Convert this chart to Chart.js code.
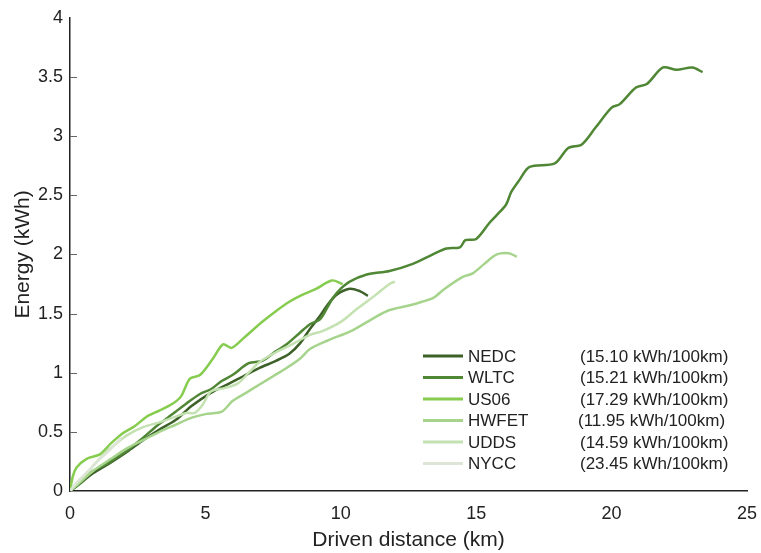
<!DOCTYPE html>
<html>
<head>
<meta charset="utf-8">
<script src="https://cdn.jsdelivr.net/npm/chart.js@4"></script>
<style>
  body { margin: 0; background: #fff; }
  #wrap { width: 761px; height: 553px; }
</style>
</head>
<body>
<div id="wrap"><canvas id="chart"></canvas></div>
<script>
// driving cycles: [distance km, energy kWh]
var cycleNames = ['NEDC', 'WLTC', 'US06', 'HWFET', 'UDDS', 'NYCC'];
var cycleConsumption = ['(15.10 kWh/100km)', '(15.21 kWh/100km)', '(17.29 kWh/100km)',
                        '(11.95 kWh/100km)', '(14.59 kWh/100km)', '(23.45 kWh/100km)'];
var cycleColors = ['#3d6129', '#4f8735', '#86cc4f', '#a6d48c', '#c4e2b1', '#dde6d6'];

var nedc = [[0,0],[0.3,0.05],[0.85,0.15],[1.5,0.24],[2.1,0.33],[2.7,0.43],[3.3,0.52],[3.9,0.6],
  [4.5,0.72],[5.2,0.83],[5.8,0.9],[6.4,0.97],[7.0,1.04],[7.6,1.1],[8.1,1.16],[8.5,1.25],
  [8.86,1.37],[9.2,1.47],[9.5,1.57],[9.85,1.66],[10.33,1.71],[10.7,1.69],[11.0,1.65]];
var wltc = [[0,0],[0.4,0.07],[0.85,0.17],[1.3,0.22],[1.7,0.28],[2.1,0.34],[2.7,0.45],[3.2,0.55],
  [3.5,0.6],[3.9,0.67],[4.3,0.74],[4.8,0.82],[5.2,0.86],[5.6,0.93],[6.0,0.98],[6.6,1.08],
  [7.1,1.1],[7.6,1.18],[8.0,1.24],[8.5,1.34],[8.86,1.41],[9.23,1.45],[9.5,1.55],[9.7,1.63],
  [10.0,1.71],[10.33,1.77],[10.96,1.83],[11.8,1.86],[12.66,1.92],[13.4,2.0],[13.9,2.05],
  [14.4,2.06],[14.6,2.12],[15.0,2.13],[15.5,2.27],[15.75,2.33],[16.1,2.42],[16.3,2.53],
  [16.6,2.63],[16.97,2.74],[17.9,2.77],[18.4,2.9],[18.9,2.93],[19.4,3.07],[20.0,3.24],
  [20.3,3.27],[20.9,3.41],[21.3,3.44],[21.9,3.58],[22.4,3.56],[22.99,3.58],[23.36,3.54]];
var us06 = [[0,0],[0.1,0.12],[0.25,0.2],[0.6,0.27],[1.1,0.31],[1.5,0.4],[1.96,0.49],[2.4,0.55],
  [2.84,0.63],[3.3,0.68],[3.8,0.74],[4.1,0.8],[4.43,0.95],[4.8,0.98],[5.28,1.12],[5.65,1.24],
  [5.97,1.21],[6.4,1.29],[7.1,1.43],[7.6,1.52],[8.1,1.6],[8.5,1.65],[9.1,1.71],[9.67,1.78],
  [10.07,1.75]];
var hwfet = [[0,0],[0.4,0.08],[0.85,0.17],[1.5,0.27],[2.1,0.36],[2.7,0.43],[3.3,0.5],[3.9,0.56],
  [4.5,0.62],[5.0,0.65],[5.6,0.67],[6.0,0.76],[6.5,0.83],[7.0,0.9],[7.5,0.97],[8.0,1.04],
  [8.5,1.12],[8.86,1.2],[9.5,1.27],[10.45,1.36],[11.2,1.46],[11.8,1.53],[12.55,1.57],
  [13.0,1.6],[13.4,1.63],[13.84,1.71],[14.5,1.81],[14.87,1.84],[15.3,1.92],[15.76,2.0],
  [16.2,2.01],[16.5,1.98]];
var udds = [[0,0],[0.5,0.12],[1.2,0.3],[1.7,0.4],[2.1,0.47],[2.7,0.54],[3.3,0.58],[3.8,0.62],
  [4.3,0.66],[4.6,0.66],[4.9,0.73],[5.2,0.84],[5.7,0.87],[6.2,0.91],[6.6,1.0],[7.0,1.09],
  [7.5,1.16],[8.2,1.24],[8.86,1.32],[9.3,1.35],[10.0,1.43],[10.6,1.54],[11.3,1.66],
  [11.8,1.75],[12.0,1.77]];
var nycc = [[0,0],[0.2,0.06],[0.5,0.13],[0.8,0.2],[1.1,0.27],[1.4,0.33],[1.7,0.4],[1.9,0.45]];

var cycleData = [nedc, wltc, us06, hwfet, udds, nycc];

var FONT = 'Liberation Sans, Arial, sans-serif';

// y ticks drawn on the inside of the axis + legend block with consumption text
var extras = {
    id: 'extras',
    afterDraw: function (chart) {
        var ctx = chart.ctx;
        var y = chart.scales.y;
        var area = chart.chartArea;
        ctx.save();
        ctx.strokeStyle = '#666';
        ctx.lineWidth = 1;
        y.ticks.forEach(function (t) {
            if (t.value <= 0 || t.value >= 4) return;
            var py = Math.round(y.getPixelForValue(t.value)) + 0.5;
            ctx.beginPath();
            ctx.moveTo(area.left, py);
            ctx.lineTo(area.left + 7, py);
            ctx.stroke();
        });

        ctx.font = '17px ' + FONT;
        ctx.textBaseline = 'middle';
        ctx.fillStyle = '#222';
        cycleNames.forEach(function (name, i) {
            var rowY = 356 + i * 21.5;
            ctx.strokeStyle = cycleColors[i];
            ctx.lineWidth = 3;
            ctx.beginPath();
            ctx.moveTo(423, rowY);
            ctx.lineTo(463, rowY);
            ctx.stroke();
            ctx.fillText(name, 468, rowY + 1);
            ctx.fillText(cycleConsumption[i], i === 3 ? 578 : 580, rowY + 1);
        });
        ctx.restore();
    }
};

var ctx = document.getElementById('chart').getContext('2d');
var myChart = new Chart(ctx, {
    type: 'line',
    data: {
        datasets: cycleNames.map(function (name, i) {
            return {
                label: name,
                data: cycleData[i].map(function (p) { return { x: p[0], y: p[1] }; }),
                borderColor: cycleColors[i],
                borderWidth: 2.5,
                pointRadius: 0,
                tension: 0.3,
                fill: false
            };
        }).reverse()
    },
    options: {
        responsive: true,
        maintainAspectRatio: false,
        animation: false,
        layout: {
            padding: { top: 11, right: 0, left: 0, bottom: 0 }
        },
        plugins: {
            legend: { display: false },
            tooltip: { enabled: false }
        },
        scales: {
            x: {
                type: 'linear',
                min: 0,
                max: 25,
                ticks: {
                    stepSize: 5,
                    color: '#222',
                    padding: 12,
                    maxRotation: 0,
                    font: { family: FONT, size: 18 }
                },
                grid: { display: false, drawTicks: false },
                border: { color: '#222', width: 1.5 },
                title: {
                    display: true,
                    text: 'Driven distance (km)',
                    color: '#222',
                    padding: 0,
                    font: { family: FONT, size: 21 }
                },
                afterFit: function (s) { s.height = 62; s.paddingRight = 14; }
            },
            y: {
                min: 0,
                max: 4,
                ticks: {
                    stepSize: 0.5,
                    color: '#222',
                    padding: 7,
                    font: { family: FONT, size: 18 },
                    callback: function (v) { return String(v); }
                },
                grid: { display: false, drawTicks: false },
                border: { color: '#222', width: 1.5 },
                title: {
                    display: true,
                    text: 'Energy (kWh)',
                    color: '#222',
                    padding: { top: 11, bottom: 0 },
                    font: { family: FONT, size: 21 }
                },
                afterFit: function (s) { s.width = 70; }
            }
        }
    },
    plugins: [extras]
});
</script>
</body>
</html>
